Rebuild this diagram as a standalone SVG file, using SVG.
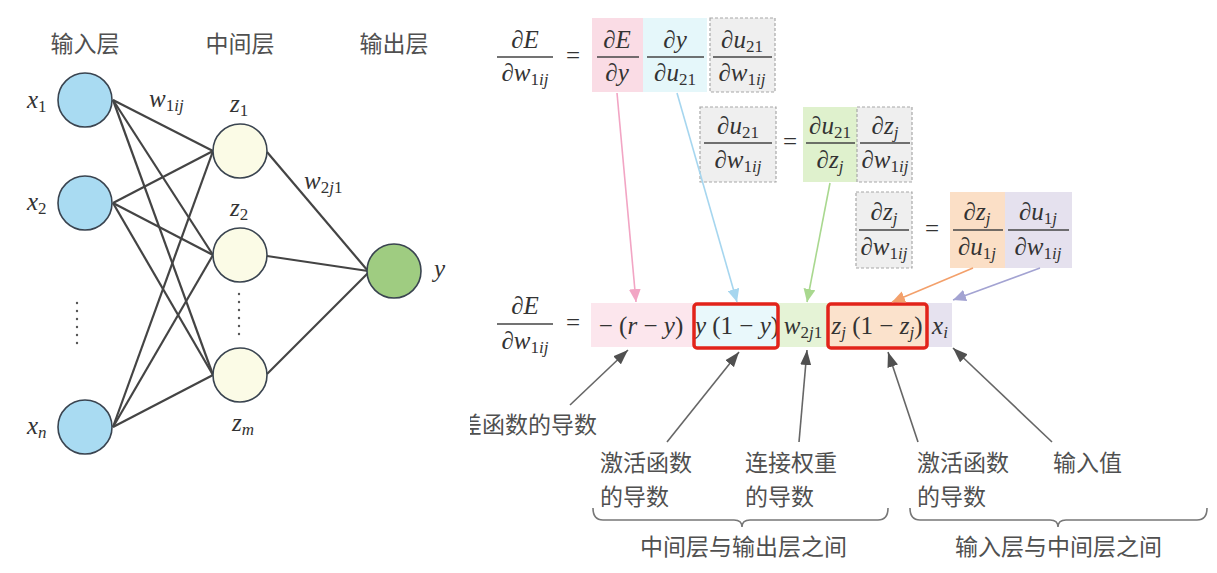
<svg xmlns="http://www.w3.org/2000/svg" width="1217" height="573" viewBox="0 0 1217 573">
<style>
.cn{font-family:"Noto Sans CJK SC","Noto Sans",sans-serif;font-size:23px;fill:#505050}
.m{font-family:"Liberation Serif","Times New Roman","DejaVu Serif",serif;font-size:25px;fill:#333;font-style:italic}
.mc{font-family:"Liberation Serif","Times New Roman","DejaVu Serif",serif;font-size:25px;fill:#333;font-style:italic;text-anchor:middle}
.s{font-size:17px}
.up{font-style:normal}
.fl{stroke:#444;stroke-width:1.4}
.gbox{fill:#efefef;stroke:#a8a8a8;stroke-width:1.2;stroke-dasharray:3 2}
.edge{stroke:#444;stroke-width:2.2;fill:none}
.lbl{stroke:#666;stroke-width:1.6;fill:none}
.red{fill:none;stroke:#e2231a;stroke-width:3.5}
.brace{fill:none;stroke:#777;stroke-width:1.6}
</style>
<defs>
<marker id="ah-k" markerUnits="userSpaceOnUse" markerWidth="16" markerHeight="12" refX="15" refY="6" orient="auto"><path d="M0,0.5 L15,6 L0,11.5 z" fill="#505050"/></marker>
<marker id="ah-p" markerUnits="userSpaceOnUse" markerWidth="14" markerHeight="12" refX="13" refY="6" orient="auto"><path d="M0,0 L13,6 L0,12 z" fill="#f2a5c4"/></marker>
<marker id="ah-c" markerUnits="userSpaceOnUse" markerWidth="14" markerHeight="12" refX="13" refY="6" orient="auto"><path d="M0,0 L13,6 L0,12 z" fill="#a6d6ef"/></marker>
<marker id="ah-g" markerUnits="userSpaceOnUse" markerWidth="14" markerHeight="12" refX="13" refY="6" orient="auto"><path d="M0,0 L13,6 L0,12 z" fill="#a9d88f"/></marker>
<marker id="ah-o" markerUnits="userSpaceOnUse" markerWidth="14" markerHeight="12" refX="13" refY="6" orient="auto"><path d="M0,0 L13,6 L0,12 z" fill="#f3a06b"/></marker>
<marker id="ah-v" markerUnits="userSpaceOnUse" markerWidth="14" markerHeight="12" refX="13" refY="6" orient="auto"><path d="M0,0 L13,6 L0,12 z" fill="#a3a3d2"/></marker>
<clipPath id="clipL"><rect x="470" y="400" width="200" height="50"/></clipPath>
</defs>
<rect width="1217" height="573" fill="#ffffff"/>

<g id="headers">
<text class="cn" x="85" y="52" text-anchor="middle">输入层</text>
<text class="cn" x="240" y="52" text-anchor="middle">中间层</text>
<text class="cn" x="394" y="52" text-anchor="middle">输出层</text>
</g>

<g id="net-edges">
<line class="edge" x1="113" y1="100" x2="213" y2="151"/>
<line class="edge" x1="113" y1="100" x2="213" y2="255"/>
<line class="edge" x1="113" y1="100" x2="213" y2="375"/>
<line class="edge" x1="113" y1="203" x2="213" y2="151"/>
<line class="edge" x1="113" y1="203" x2="213" y2="255"/>
<line class="edge" x1="113" y1="203" x2="213" y2="375"/>
<line class="edge" x1="113" y1="427" x2="213" y2="151"/>
<line class="edge" x1="113" y1="427" x2="213" y2="255"/>
<line class="edge" x1="113" y1="427" x2="213" y2="375"/>
<line class="edge" x1="267" y1="152" x2="368" y2="271"/>
<line class="edge" x1="267" y1="256" x2="368" y2="271"/>
<line class="edge" x1="267" y1="374" x2="368" y2="273"/>
</g>

<g id="node-x1"><circle cx="85" cy="100" r="27" fill="#a9dbf2" stroke="#3a4450" stroke-width="1.6"/><text class="m" x="27" y="108">x<tspan class="s up" dy="4">1</tspan></text></g>
<g id="node-x2"><circle cx="85" cy="203" r="27" fill="#a9dbf2" stroke="#3a4450" stroke-width="1.6"/><text class="m" x="27" y="210">x<tspan class="s up" dy="4">2</tspan></text></g>
<g id="node-xn"><circle cx="85" cy="427" r="27" fill="#a9dbf2" stroke="#3a4450" stroke-width="1.6"/><text class="m" x="27" y="434">x<tspan class="s" dy="4">n</tspan></text></g>
<g id="node-z1"><circle cx="240" cy="151" r="27" fill="#fbfbe6" stroke="#3a4450" stroke-width="1.6"/><text class="m" x="230" y="112">z<tspan class="s up" dy="4">1</tspan></text></g>
<g id="node-z2"><circle cx="240" cy="255" r="27" fill="#fbfbe6" stroke="#3a4450" stroke-width="1.6"/><text class="m" x="230" y="216">z<tspan class="s up" dy="4">2</tspan></text></g>
<g id="node-zm"><circle cx="240" cy="375" r="27" fill="#fbfbe6" stroke="#3a4450" stroke-width="1.6"/><text class="m" x="232" y="431">z<tspan class="s" dy="4">m</tspan></text></g>
<g id="node-y"><circle cx="394" cy="271" r="27" fill="#9fcc81" stroke="#3a4450" stroke-width="1.6"/><text class="m" x="434" y="277">y</text></g>

<g id="net-labels">
<text class="m" x="149" y="107">w<tspan class="s" dy="4"><tspan class="up">1</tspan>ij</tspan></text>
<text class="m" x="304" y="189">w<tspan class="s" dy="4"><tspan class="up">2</tspan>j<tspan class="up">1</tspan></tspan></text>
<g fill="#555">
<circle cx="77" cy="303" r="1.2"/><circle cx="77" cy="311" r="1.2"/><circle cx="77" cy="319" r="1.2"/><circle cx="77" cy="327" r="1.2"/><circle cx="77" cy="335" r="1.2"/><circle cx="77" cy="343" r="1.2"/>
<circle cx="239" cy="294" r="1.2"/><circle cx="239" cy="302" r="1.2"/><circle cx="239" cy="310" r="1.2"/><circle cx="239" cy="318" r="1.2"/><circle cx="239" cy="326" r="1.2"/><circle cx="239" cy="334" r="1.2"/>
</g>
</g>

<g id="eq1">
<text class="mc" x="525" y="48"><tspan class="up">∂</tspan>E</text>
<line class="fl" x1="497" y1="57" x2="553" y2="57"/>
<text class="mc" x="525" y="81"><tspan class="up">∂</tspan>w<tspan class="s" dy="4"><tspan class="up">1</tspan>ij</tspan></text>
<text class="mc" x="573" y="64" style="font-style:normal">=</text>
<rect x="592" y="18" width="51" height="74" fill="#fadce5"/>
<rect x="643" y="18" width="64" height="74" fill="#e5f7fa"/>
<rect class="gbox" x="710" y="18" width="65" height="74"/>
<text class="mc" x="617" y="48"><tspan class="up">∂</tspan>E</text>
<line class="fl" x1="597" y1="57" x2="639" y2="57"/>
<text class="mc" x="617" y="81"><tspan class="up">∂</tspan>y</text>
<text class="mc" x="675" y="48"><tspan class="up">∂</tspan>y</text>
<line class="fl" x1="647" y1="57" x2="704" y2="57"/>
<text class="mc" x="675" y="81"><tspan class="up">∂</tspan>u<tspan class="s up" dy="4">21</tspan></text>
<text class="mc" x="742" y="48"><tspan class="up">∂</tspan>u<tspan class="s up" dy="4">21</tspan></text>
<line class="fl" x1="713" y1="57" x2="772" y2="57"/>
<text class="mc" x="742" y="81"><tspan class="up">∂</tspan>w<tspan class="s" dy="4"><tspan class="up">1</tspan>ij</tspan></text>
</g>

<g id="eq2">
<rect class="gbox" x="700" y="107" width="76" height="75"/>
<rect x="803" y="107" width="54" height="75" fill="#dff1cd"/>
<rect class="gbox" x="857" y="107" width="55" height="75"/>
<text class="mc" x="738" y="134"><tspan class="up">∂</tspan>u<tspan class="s up" dy="4">21</tspan></text>
<line class="fl" x1="704" y1="143" x2="772" y2="143"/>
<text class="mc" x="738" y="168"><tspan class="up">∂</tspan>w<tspan class="s" dy="4"><tspan class="up">1</tspan>ij</tspan></text>
<text class="mc" x="790" y="150" style="font-style:normal">=</text>
<text class="mc" x="830" y="134"><tspan class="up">∂</tspan>u<tspan class="s up" dy="4">21</tspan></text>
<line class="fl" x1="806" y1="143" x2="855" y2="143"/>
<text class="mc" x="830" y="168"><tspan class="up">∂</tspan>z<tspan class="s" dy="4">j</tspan></text>
<text class="mc" x="885" y="134"><tspan class="up">∂</tspan>z<tspan class="s" dy="4">j</tspan></text>
<line class="fl" x1="860" y1="143" x2="910" y2="143"/>
<text class="mc" x="885" y="168"><tspan class="up">∂</tspan>w<tspan class="s" dy="4"><tspan class="up">1</tspan>ij</tspan></text>
</g>

<g id="eq3">
<rect class="gbox" x="856" y="192" width="56" height="76"/>
<rect x="950" y="192" width="55" height="76" fill="#fbdfc6"/>
<rect x="1005" y="192" width="67" height="76" fill="#e5e1ee"/>
<text class="mc" x="884" y="220"><tspan class="up">∂</tspan>z<tspan class="s" dy="4">j</tspan></text>
<line class="fl" x1="859" y1="230" x2="909" y2="230"/>
<text class="mc" x="884" y="255"><tspan class="up">∂</tspan>w<tspan class="s" dy="4"><tspan class="up">1</tspan>ij</tspan></text>
<text class="mc" x="932" y="237" style="font-style:normal">=</text>
<text class="mc" x="977" y="220"><tspan class="up">∂</tspan>z<tspan class="s" dy="4">j</tspan></text>
<line class="fl" x1="953" y1="230" x2="1003" y2="230"/>
<text class="mc" x="977" y="255"><tspan class="up">∂</tspan>u<tspan class="s" dy="4"><tspan class="up">1</tspan>j</tspan></text>
<text class="mc" x="1038" y="220"><tspan class="up">∂</tspan>u<tspan class="s" dy="4"><tspan class="up">1</tspan>j</tspan></text>
<line class="fl" x1="1008" y1="230" x2="1069" y2="230"/>
<text class="mc" x="1038" y="255"><tspan class="up">∂</tspan>w<tspan class="s" dy="4"><tspan class="up">1</tspan>ij</tspan></text>
</g>

<g id="eq-result">
<text class="mc" x="525" y="314"><tspan class="up">∂</tspan>E</text>
<line class="fl" x1="497" y1="324" x2="553" y2="324"/>
<text class="mc" x="525" y="349"><tspan class="up">∂</tspan>w<tspan class="s" dy="4"><tspan class="up">1</tspan>ij</tspan></text>
<text class="mc" x="573" y="331" style="font-style:normal">=</text>
<rect x="591" y="303" width="102" height="44" fill="#fce6ed"/>
<rect x="693" y="303" width="84" height="44" fill="#e9f8fb"/>
<rect x="777" y="303" width="51" height="44" fill="#e5f3d6"/>
<rect x="828" y="303" width="99" height="44" fill="#fbe2cc"/>
<rect x="927" y="303" width="25" height="44" fill="#e6e2ef"/>
<text class="mc" x="641" y="334"><tspan class="up">− (</tspan>r<tspan class="up"> − </tspan>y<tspan class="up">)</tspan></text>
<text class="mc" x="737" y="334">y<tspan class="up"> (1 − </tspan>y<tspan class="up">)</tspan></text>
<text class="mc" x="803" y="334">w<tspan class="s" dy="4"><tspan class="up">2</tspan>j<tspan class="up">1</tspan></tspan></text>
<text class="mc" x="877" y="334">z<tspan class="s" dy="4">j</tspan><tspan class="up" dy="-4"> (1 − </tspan>z<tspan class="s" dy="4">j</tspan><tspan class="up" dy="-4">)</tspan></text>
<text class="mc" x="940" y="334">x<tspan class="s" dy="4">i</tspan></text>
<rect class="red" x="694" y="304" width="84" height="44" rx="3"/>
<rect class="red" x="828" y="304" width="99" height="44" rx="3"/>
</g>

<g id="connectors">
<line x1="617" y1="93" x2="636" y2="302" stroke="#f2a5c4" stroke-width="1.6" marker-end="url(#ah-p)"/>
<line x1="677" y1="93" x2="737" y2="302" stroke="#a6d6ef" stroke-width="1.6" marker-end="url(#ah-c)"/>
<line x1="830" y1="183" x2="807" y2="302" stroke="#a9d88f" stroke-width="1.6" marker-end="url(#ah-g)"/>
<line x1="973" y1="268" x2="892" y2="302" stroke="#f3a06b" stroke-width="1.6" marker-end="url(#ah-o)"/>
<line x1="1040" y1="268" x2="953" y2="300" stroke="#a3a3d2" stroke-width="1.6" marker-end="url(#ah-v)"/>
<line class="lbl" x1="570" y1="405" x2="628" y2="350" marker-end="url(#ah-k)"/>
<line class="lbl" x1="667" y1="442" x2="739" y2="352" marker-end="url(#ah-k)"/>
<line class="lbl" x1="799" y1="442" x2="807" y2="350" marker-end="url(#ah-k)"/>
<line class="lbl" x1="918" y1="442" x2="888" y2="352" marker-end="url(#ah-k)"/>
<line class="lbl" x1="1052" y1="442" x2="953" y2="348" marker-end="url(#ah-k)"/>
<path class="brace" d="M593,508 Q593,520 603,520 L734,520 Q742,520 742,527 Q742,520 750,520 L878,520 Q888,520 888,508"/>
<path class="brace" d="M910,508 Q910,520 920,520 L1050,520 Q1058,520 1058,527 Q1058,520 1066,520 L1197,520 Q1207,520 1207,508"/>
</g>

<g id="labels">
<text class="cn" x="459" y="433" clip-path="url(#clipL)">差函数的导数</text>
<text class="cn" x="600" y="471">激活函数</text>
<text class="cn" x="600" y="505">的导数</text>
<text class="cn" x="745" y="471">连接权重</text>
<text class="cn" x="745" y="505">的导数</text>
<text class="cn" x="917" y="471">激活函数</text>
<text class="cn" x="917" y="505">的导数</text>
<text class="cn" x="1053" y="471">输入值</text>
<text class="cn" x="640" y="555">中间层与输出层之间</text>
<text class="cn" x="955" y="555">输入层与中间层之间</text>
</g>
</svg>
